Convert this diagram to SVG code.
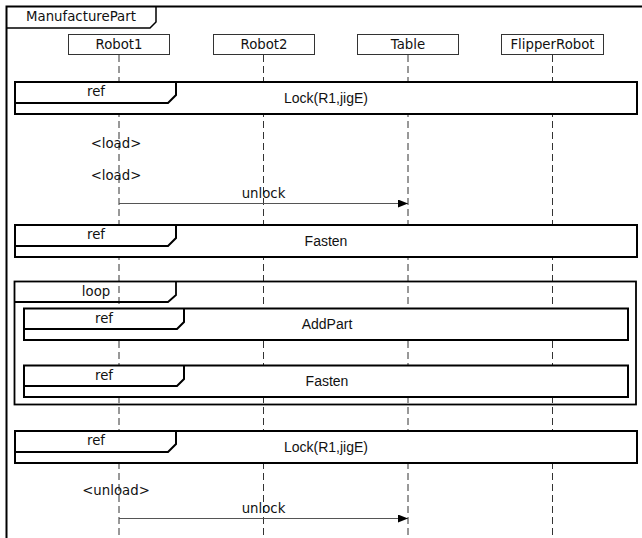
<svg xmlns="http://www.w3.org/2000/svg" width="642" height="538" viewBox="0 0 642 538">
  <style>
    .lbl { font-family: "DejaVu Sans", Verdana, sans-serif; font-size: 13.3px; fill: #111; }
    .ref-text { font-family: "Liberation Sans", Arial, sans-serif; font-size: 14px; fill: #111; }
    .head rect { fill: #fff; stroke: #333; stroke-width: 1; }
    .lifeline { stroke: #333; stroke-width: 1; stroke-dasharray: 7 4; fill: none; }
    .ref-box { fill: #fff; stroke: #000; stroke-width: 2; }
    .ref-tab { fill: none; stroke: #000; stroke-width: 2; }
    .loop-box { fill: none; stroke: #000; stroke-width: 1.8; }
    .msg { stroke: #555; stroke-width: 1; fill: none; marker-end: url(#arrow); }
    text { text-anchor: middle; }
  </style>
  <defs>
    <marker id="arrow" viewBox="0 0 10 8" refX="10" refY="4" markerWidth="10" markerHeight="8" markerUnits="userSpaceOnUse" orient="auto">
      <path d="M0,0 L10,4 L0,8 Z" fill="#000"/>
    </marker>
  </defs>
  <rect width="642" height="538" fill="#fff"/>

  <!-- sequence frame -->
  <g id="frame">
    <path d="M6.5,538 V6.5 H642" fill="none" stroke="#000" stroke-width="2"/>
    <path d="M6.5,28 H150 L156,22 V6.5" fill="none" stroke="#000" stroke-width="1.5"/>
    <text class="lbl" x="81" y="20.5">ManufacturePart</text>
  </g>

  <!-- lifelines -->
  <g id="lifelines">
    <line class="lifeline" x1="119" y1="55" x2="119" y2="538"/>
    <line class="lifeline" x1="263.5" y1="55" x2="263.5" y2="538"/>
    <line class="lifeline" x1="408" y1="55" x2="408" y2="538"/>
    <line class="lifeline" x1="552.5" y1="55" x2="552.5" y2="538"/>
  </g>

  <g id="robot1" class="head">
    <rect x="68.5" y="34.5" width="101" height="20"/>
    <text class="lbl" x="119" y="49">Robot1</text>
  </g>
  <g id="robot2" class="head">
    <rect x="213.5" y="34.5" width="101" height="20"/>
    <text class="lbl" x="264" y="49">Robot2</text>
  </g>
  <g id="table" class="head">
    <rect x="357.5" y="34.5" width="101" height="20"/>
    <text class="lbl" x="408" y="49">Table</text>
  </g>
  <g id="flipperRobot" class="head">
    <rect x="501.5" y="34.5" width="102" height="20"/>
    <text class="lbl" x="552.5" y="49">FlipperRobot</text>
  </g>

  <!-- interaction uses and fragments -->
  <g id="ref-lock-1">
    <rect class="ref-box" x="15" y="82" width="622" height="32"/>
    <path class="ref-tab" d="M15,103 H168 L176,95 V82"/>
    <text class="lbl" x="96" y="96">ref</text>
    <text class="ref-text" x="326" y="103">Lock(R1,jigE)</text>
  </g>

  <g id="ref-fasten-1">
    <rect class="ref-box" x="15" y="225" width="622" height="32"/>
    <path class="ref-tab" d="M15,246 H168 L176,238 V225"/>
    <text class="lbl" x="96" y="239">ref</text>
    <text class="ref-text" x="326" y="246">Fasten</text>
  </g>

  <g id="loop">
    <rect class="loop-box" x="14.5" y="281.5" width="621.5" height="123"/>
    <path class="loop-box" d="M14.5,302 H168 L176,295 V281.5"/>
    <text class="lbl" x="96" y="296">loop</text>
  </g>

  <g id="ref-addpart">
    <rect class="ref-box" x="24" y="308.5" width="604" height="31.5"/>
    <path class="ref-tab" d="M24,329 H177 L184,322 V308.5"/>
    <text class="lbl" x="104" y="323">ref</text>
    <text class="ref-text" x="327" y="329">AddPart</text>
  </g>

  <g id="ref-fasten-2">
    <rect class="ref-box" x="24" y="365.5" width="604" height="31.5"/>
    <path class="ref-tab" d="M24,386 H177 L184,379 V365.5"/>
    <text class="lbl" x="104" y="380">ref</text>
    <text class="ref-text" x="327" y="386">Fasten</text>
  </g>

  <g id="ref-lock-2">
    <rect class="ref-box" x="15" y="431" width="622" height="32"/>
    <path class="ref-tab" d="M15,452 H168 L176,444 V431"/>
    <text class="lbl" x="96" y="445">ref</text>
    <text class="ref-text" x="326" y="452">Lock(R1,jigE)</text>
  </g>

  <!-- states on Robot1 -->
  <g id="load-1"><text class="lbl" x="116" y="148">&lt;load&gt;</text></g>
  <g id="load-2"><text class="lbl" x="116" y="180">&lt;load&gt;</text></g>
  <g id="unload"><text class="lbl" x="116" y="495">&lt;unload&gt;</text></g>

  <!-- messages -->
  <g id="connectors">
    <line class="msg" x1="119" y1="203.5" x2="408" y2="203.5"/>
    <text class="lbl" x="263.5" y="198">unlock</text>
    <line class="msg" x1="119" y1="518.5" x2="408" y2="518.5"/>
    <text class="lbl" x="263.5" y="513">unlock</text>
  </g>
</svg>
